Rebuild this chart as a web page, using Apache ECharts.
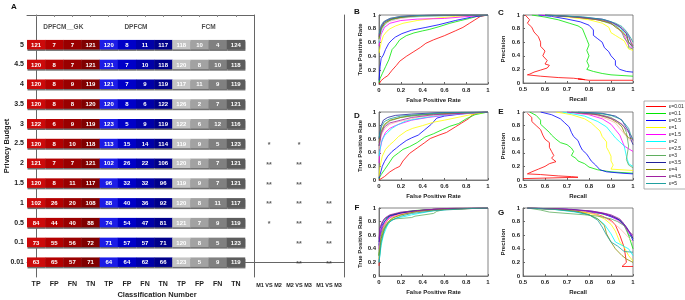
<!DOCTYPE html>
<html>
<head>
<meta charset="utf-8">
<script src="https://cdn.jsdelivr.net/npm/echarts@6/dist/echarts.min.js"></script>
<style>
  html, body { margin: 0; padding: 0; background: #fff; }
  #chart { width: 685px; height: 300px; }
</style>
</head>
<body>
<div id="chart"></div>
<script>
// ---- panel A : confusion counts, rows from budget 5 (top) down to 0.01
var budgets = ['5', '4.5', '4', '3.5', '3', '2.5', '2', '1.5', '1', '0.5', '0.1', '0.01'];
var classLabels = ['TP', 'FP', 'FN', 'TN', 'TP', 'FP', 'FN', 'TN', 'TP', 'FP', 'FN', 'TN'];
var methodNames = ['DPFCM__GK', 'DPFCM', 'FCM'];
var gkCounts = [
  [121, 7, 7, 121], [120, 8, 7, 121], [120, 8, 9, 119], [120, 8, 8, 120],
  [122, 6, 9, 119], [120, 8, 10, 118], [121, 7, 7, 121], [120, 8, 11, 117],
  [102, 26, 20, 108], [84, 44, 40, 88], [73, 55, 56, 72], [63, 65, 57, 71]
];
var dpCounts = [
  [120, 8, 11, 117], [121, 7, 10, 118], [121, 7, 9, 119], [120, 8, 6, 122],
  [123, 5, 9, 119], [113, 15, 14, 114], [102, 26, 22, 106], [96, 32, 32, 96],
  [88, 40, 36, 92], [74, 54, 47, 81], [71, 57, 57, 71], [64, 64, 62, 66]
];
var fcmCounts = [
  [118, 10, 4, 124], [120, 8, 10, 118], [117, 11, 9, 119], [126, 2, 7, 121],
  [122, 6, 12, 116], [119, 9, 5, 123], [120, 8, 7, 121], [119, 9, 7, 121],
  [120, 8, 11, 117], [121, 7, 9, 119], [120, 8, 5, 123], [123, 5, 9, 119]
];
var compareLabels = ['M1 VS M2', 'M2 VS M3', 'M1 VS M3'];
var starsM1M2 = ['', '', '', '', '', '*', '**', '**', '**', '*', '', ''];
var starsM2M3 = ['', '', '', '', '', '*', '**', '**', '**', '**', '**', '**'];
var starsM1M3 = ['', '', '', '', '', '', '', '', '**', '**', '**', '**'];

// ---- panels B-G : one curve per privacy budget
var epsNames = ['ε=0.01', 'ε=0.1', 'ε=0.5', 'ε=1', 'ε=1.5', 'ε=2', 'ε=2.5', 'ε=3', 'ε=3.5', 'ε=4', 'ε=4.5', 'ε=5'];

var rocGK = [
  [[0,0],[0.02,0.05],[0.05,0.09],[0.08,0.12],[0.12,0.2],[0.16,0.27],[0.19,0.33],[0.25,0.4],[0.32,0.47],[0.38,0.53],[0.43,0.59],[0.5,0.64],[0.6,0.7],[0.7,0.77],[0.77,0.82],[0.83,0.88],[0.88,0.93],[0.93,0.98],[1,1]],
  [[0,0.02],[0.01,0.08],[0.03,0.15],[0.06,0.25],[0.09,0.35],[0.12,0.5],[0.15,0.55],[0.19,0.64],[0.25,0.7],[0.32,0.74],[0.4,0.77],[0.46,0.79],[0.55,0.83],[0.65,0.88],[0.75,0.92],[0.83,0.95],[0.9,0.98],[1,1]],
  [[0,0.05],[0.01,0.25],[0.02,0.37],[0.04,0.42],[0.06,0.5],[0.09,0.59],[0.12,0.64],[0.15,0.68],[0.21,0.73],[0.3,0.78],[0.43,0.82],[0.55,0.86],[0.7,0.92],[0.85,0.97],[1,1]],
  [[0,0.45],[0.02,0.6],[0.04,0.7],[0.07,0.76],[0.1,0.8],[0.15,0.84],[0.22,0.88],[0.35,0.92],[0.5,0.95],[0.7,0.98],[1,1]],
  [[0,0.55],[0.02,0.72],[0.05,0.82],[0.1,0.88],[0.2,0.92],[0.35,0.94],[0.6,0.95],[0.75,0.97],[0.9,0.99],[1,1]],
  [[0,0.6],[0.01,0.7],[0.03,0.8],[0.06,0.87],[0.1,0.92],[0.2,0.96],[0.4,0.98],[0.6,0.99],[1,1]],
  [[0,0.62],[0.02,0.78],[0.05,0.86],[0.1,0.91],[0.2,0.95],[0.35,0.98],[0.6,0.99],[1,1]],
  [[0,0.65],[0.02,0.8],[0.05,0.88],[0.1,0.93],[0.18,0.96],[0.3,0.98],[0.5,0.99],[1,1]],
  [[0,0.68],[0.02,0.82],[0.05,0.9],[0.1,0.94],[0.2,0.97],[0.3,0.99],[0.55,1],[1,1]],
  [[0,0.66],[0.02,0.8],[0.06,0.89],[0.12,0.94],[0.22,0.97],[0.35,0.99],[0.6,1],[1,1]],
  [[0,0.7],[0.02,0.84],[0.05,0.91],[0.1,0.95],[0.2,0.98],[0.3,0.99],[0.5,1],[1,1]],
  [[0,0.72],[0.02,0.85],[0.04,0.9],[0.1,0.95],[0.2,0.98],[0.32,0.99],[0.5,1],[1,1]]
];
var prGK = [
  [[0.51,1],[0.53,0.93],[0.52,0.88],[0.54,0.82],[0.55,0.75],[0.57,0.68],[0.58,0.6],[0.58,0.54],[0.6,0.47],[0.59,0.4],[0.61,0.33],[0.6,0.28],[0.62,0.26],[0.61,0.22],[0.58,0.19],[0.55,0.16],[0.53,0.13],[0.52,0.12],[0.58,0.1],[0.66,0.08],[0.73,0.07],[0.78,0.05],[0.75,0.06],[0.8,0.04],[1,0.04]],
  [[0.54,1],[0.6,0.97],[0.66,0.93],[0.71,0.88],[0.75,0.84],[0.77,0.8],[0.78,0.72],[0.79,0.64],[0.8,0.56],[0.79,0.48],[0.8,0.4],[0.79,0.32],[0.8,0.25],[0.79,0.2],[0.82,0.17],[0.86,0.14],[0.9,0.12],[0.95,0.11],[1,0.1]],
  [[0.57,1],[0.63,0.98],[0.7,0.94],[0.76,0.9],[0.8,0.85],[0.82,0.78],[0.82,0.7],[0.84,0.65],[0.86,0.6],[0.87,0.52],[0.89,0.46],[0.9,0.4],[0.92,0.33],[0.92,0.26],[0.94,0.2],[0.97,0.17],[1,0.16]],
  [[0.6,1],[0.7,0.97],[0.8,0.93],[0.86,0.88],[0.89,0.82],[0.9,0.74],[0.92,0.7],[0.94,0.66],[0.96,0.62],[0.97,0.56],[0.98,0.5],[1,0.48]],
  [[0.58,1],[0.7,0.98],[0.82,0.94],[0.88,0.9],[0.92,0.84],[0.94,0.78],[0.96,0.7],[0.97,0.62],[0.98,0.55],[1,0.5]],
  [[0.6,1],[0.72,0.98],[0.84,0.94],[0.9,0.88],[0.94,0.82],[0.96,0.74],[0.98,0.68],[0.99,0.6],[1,0.52]],
  [[0.62,1],[0.75,0.97],[0.85,0.93],[0.9,0.88],[0.93,0.82],[0.95,0.76],[0.97,0.7],[0.99,0.64],[1,0.5]],
  [[0.6,1],[0.74,0.97],[0.84,0.93],[0.9,0.87],[0.93,0.82],[0.95,0.74],[0.96,0.66],[0.98,0.58],[0.98,0.52],[1,0.5]],
  [[0.6,1],[0.76,0.97],[0.86,0.94],[0.9,0.9],[0.93,0.85],[0.95,0.8],[0.97,0.73],[0.98,0.6],[1,0.52]],
  [[0.62,1],[0.74,0.97],[0.84,0.93],[0.9,0.88],[0.92,0.82],[0.95,0.76],[0.97,0.68],[0.98,0.6],[1,0.54]],
  [[0.6,1],[0.75,0.97],[0.86,0.93],[0.91,0.88],[0.94,0.83],[0.96,0.77],[0.98,0.7],[0.99,0.6],[1,0.55]],
  [[0.6,1],[0.78,0.97],[0.87,0.93],[0.92,0.88],[0.95,0.83],[0.97,0.76],[0.99,0.66],[1,0.6]]
];
var rocDP = [
  [[0,0],[0.01,0.02],[0.05,0.05],[0.1,0.12],[0.15,0.17],[0.19,0.2],[0.22,0.28],[0.28,0.39],[0.35,0.47],[0.42,0.55],[0.47,0.61],[0.55,0.66],[0.62,0.7],[0.7,0.78],[0.76,0.84],[0.82,0.9],[0.86,0.96],[0.92,0.99],[1,1]],
  [[0,0.02],[0.02,0.08],[0.05,0.15],[0.08,0.22],[0.13,0.34],[0.18,0.4],[0.22,0.45],[0.28,0.49],[0.35,0.55],[0.42,0.63],[0.5,0.68],[0.58,0.74],[0.65,0.79],[0.73,0.83],[0.8,0.9],[0.88,0.96],[1,1]],
  [[0,0.03],[0.01,0.08],[0.03,0.2],[0.05,0.27],[0.08,0.35],[0.12,0.42],[0.16,0.47],[0.19,0.51],[0.25,0.58],[0.3,0.62],[0.36,0.66],[0.42,0.74],[0.48,0.82],[0.53,0.91],[0.6,0.94],[0.75,0.97],[1,1]],
  [[0,0.05],[0.01,0.2],[0.03,0.35],[0.06,0.45],[0.1,0.52],[0.13,0.56],[0.18,0.64],[0.25,0.72],[0.31,0.76],[0.4,0.8],[0.5,0.85],[0.6,0.88],[0.75,0.93],[0.9,0.98],[1,1]],
  [[0,0.25],[0.01,0.45],[0.03,0.6],[0.06,0.7],[0.1,0.76],[0.15,0.8],[0.22,0.84],[0.3,0.88],[0.45,0.92],[0.6,0.95],[0.8,0.98],[1,1]],
  [[0,0.35],[0.02,0.55],[0.05,0.65],[0.08,0.7],[0.12,0.76],[0.18,0.82],[0.25,0.87],[0.35,0.9],[0.5,0.94],[0.7,0.97],[1,1]],
  [[0,0.45],[0.02,0.65],[0.05,0.75],[0.1,0.82],[0.18,0.86],[0.25,0.88],[0.35,0.92],[0.5,0.95],[0.75,0.98],[1,1]],
  [[0,0.5],[0.02,0.7],[0.05,0.8],[0.1,0.87],[0.2,0.92],[0.35,0.95],[0.5,0.97],[1,1]],
  [[0,0.6],[0.02,0.8],[0.04,0.88],[0.08,0.92],[0.15,0.95],[0.3,0.97],[0.55,0.99],[1,1]],
  [[0,0.55],[0.02,0.72],[0.05,0.82],[0.1,0.88],[0.2,0.92],[0.3,0.95],[0.5,0.97],[1,1]],
  [[0,0.5],[0.02,0.68],[0.05,0.78],[0.1,0.84],[0.2,0.88],[0.3,0.92],[0.5,0.96],[1,1]],
  [[0,0.62],[0.02,0.78],[0.05,0.86],[0.1,0.9],[0.2,0.94],[0.35,0.96],[0.6,0.99],[1,1]]
];
var prDP = [
  [[0.52,0.98],[0.54,0.92],[0.54,0.86],[0.56,0.8],[0.58,0.74],[0.59,0.66],[0.6,0.6],[0.62,0.55],[0.62,0.48],[0.63,0.42],[0.64,0.36],[0.63,0.32],[0.65,0.27],[0.62,0.24],[0.6,0.2],[0.57,0.16],[0.54,0.12],[0.52,0.09],[0.58,0.08],[0.66,0.06],[0.72,0.05],[0.75,0.04],[0.75,0.02],[0.5,0.02]],
  [[0.53,1],[0.56,0.95],[0.58,0.88],[0.58,0.82],[0.6,0.76],[0.62,0.7],[0.63,0.66],[0.65,0.6],[0.67,0.55],[0.7,0.52],[0.72,0.47],[0.73,0.42],[0.72,0.36],[0.74,0.32],[0.75,0.28],[0.78,0.24],[0.8,0.19],[0.84,0.15],[0.9,0.12],[0.95,0.11],[1,0.1]],
  [[0.58,1],[0.63,0.96],[0.67,0.9],[0.69,0.84],[0.71,0.78],[0.72,0.7],[0.73,0.64],[0.75,0.58],[0.76,0.5],[0.77,0.44],[0.79,0.38],[0.8,0.33],[0.81,0.28],[0.83,0.22],[0.85,0.15],[0.88,0.12],[0.95,0.1],[1,0.09]],
  [[0.65,1],[0.72,0.96],[0.78,0.9],[0.81,0.84],[0.83,0.78],[0.85,0.72],[0.86,0.64],[0.88,0.56],[0.88,0.48],[0.89,0.42],[0.9,0.35],[0.9,0.28],[0.91,0.22],[0.9,0.16],[0.95,0.15],[1,0.14]],
  [[0.7,1],[0.8,0.96],[0.86,0.9],[0.9,0.82],[0.92,0.74],[0.94,0.66],[0.95,0.58],[0.96,0.5],[0.98,0.46],[1,0.42]],
  [[0.68,1],[0.78,0.94],[0.84,0.86],[0.88,0.78],[0.9,0.7],[0.92,0.62],[0.94,0.56],[0.96,0.5],[0.97,0.35],[0.98,0.24],[1,0.2]],
  [[0.72,1],[0.82,0.96],[0.88,0.9],[0.92,0.84],[0.94,0.76],[0.96,0.68],[0.98,0.6],[1,0.55]],
  [[0.74,1],[0.84,0.97],[0.9,0.92],[0.93,0.86],[0.96,0.78],[0.97,0.7],[0.98,0.5],[0.97,0.3],[0.98,0.22],[1,0.18]],
  [[0.75,1],[0.86,0.98],[0.92,0.94],[0.95,0.88],[0.96,0.82],[0.98,0.72],[0.99,0.6],[1,0.52]],
  [[0.72,1],[0.84,0.96],[0.9,0.9],[0.93,0.84],[0.95,0.78],[0.96,0.7],[0.98,0.62],[1,0.6]],
  [[0.7,1],[0.82,0.97],[0.88,0.93],[0.92,0.88],[0.95,0.82],[0.97,0.74],[0.99,0.66],[1,0.58]],
  [[0.72,1],[0.85,0.98],[0.9,0.95],[0.94,0.9],[0.96,0.84],[0.98,0.76],[0.99,0.66],[1,0.6]]
];
var rocFCM = [
  [[0,0.15],[0.01,0.45],[0.02,0.6],[0.04,0.72],[0.07,0.8],[0.1,0.86],[0.15,0.9],[0.25,0.93],[0.35,0.96],[0.5,0.98],[0.7,0.99],[1,1]],
  [[0,0.3],[0.01,0.55],[0.03,0.7],[0.05,0.8],[0.08,0.87],[0.12,0.9],[0.2,0.93],[0.3,0.96],[0.5,0.98],[1,1]],
  [[0,0.45],[0.01,0.6],[0.03,0.75],[0.06,0.82],[0.1,0.88],[0.18,0.92],[0.3,0.95],[0.5,0.98],[1,1]],
  [[0,0.25],[0.02,0.5],[0.04,0.65],[0.07,0.75],[0.1,0.82],[0.15,0.87],[0.25,0.92],[0.4,0.96],[0.6,0.99],[1,1]],
  [[0,0.4],[0.01,0.6],[0.03,0.72],[0.06,0.8],[0.1,0.86],[0.2,0.91],[0.3,0.94],[0.5,0.98],[1,1]],
  [[0,0.2],[0.02,0.45],[0.04,0.6],[0.07,0.72],[0.1,0.8],[0.15,0.85],[0.25,0.88],[0.3,0.9],[0.5,0.96],[0.7,0.99],[1,1]],
  [[0,0.35],[0.02,0.6],[0.05,0.75],[0.08,0.82],[0.12,0.87],[0.2,0.91],[0.35,0.95],[0.6,0.98],[1,1]],
  [[0,0.3],[0.01,0.5],[0.03,0.65],[0.06,0.75],[0.1,0.82],[0.15,0.84],[0.3,0.86],[0.33,0.88],[0.5,0.92],[0.53,0.95],[0.6,0.98],[1,1]],
  [[0,0.5],[0.01,0.7],[0.03,0.78],[0.05,0.84],[0.1,0.89],[0.2,0.93],[0.35,0.96],[0.6,0.99],[1,1]],
  [[0,0.3],[0.02,0.55],[0.05,0.7],[0.08,0.78],[0.12,0.85],[0.2,0.9],[0.35,0.95],[0.6,0.98],[1,1]],
  [[0,0.55],[0.01,0.72],[0.03,0.8],[0.06,0.86],[0.1,0.9],[0.2,0.94],[0.4,0.97],[0.7,1],[1,1]],
  [[0,0.2],[0.02,0.5],[0.05,0.68],[0.08,0.77],[0.12,0.82],[0.2,0.88],[0.3,0.92],[0.5,0.96],[0.8,0.99],[1,1]]
];
var prFCM = [
  [[0.52,1],[0.65,0.98],[0.75,0.95],[0.82,0.92],[0.86,0.88],[0.9,0.82],[0.92,0.75],[0.94,0.6],[0.96,0.42],[0.97,0.2],[0.95,0.14],[1,0.14]],
  [[0.52,1],[0.68,0.98],[0.78,0.95],[0.85,0.92],[0.9,0.88],[0.93,0.84],[0.95,0.78],[0.97,0.7],[0.99,0.5],[1,0.4]],
  [[0.52,1],[0.7,0.98],[0.8,0.95],[0.86,0.92],[0.9,0.87],[0.94,0.82],[0.96,0.75],[0.98,0.66],[1,0.52]],
  [[0.52,1],[0.66,0.98],[0.76,0.95],[0.83,0.9],[0.87,0.84],[0.9,0.76],[0.92,0.66],[0.94,0.5],[0.96,0.42],[0.98,0.3],[1,0.22]],
  [[0.52,1],[0.7,0.98],[0.8,0.95],[0.86,0.92],[0.9,0.88],[0.93,0.82],[0.96,0.74],[0.98,0.64],[1,0.58]],
  [[0.52,1],[0.64,0.98],[0.74,0.94],[0.8,0.9],[0.84,0.84],[0.87,0.76],[0.9,0.62],[0.92,0.5],[0.95,0.45],[0.98,0.4],[1,0.3]],
  [[0.52,1],[0.68,0.98],[0.78,0.95],[0.84,0.9],[0.88,0.84],[0.91,0.78],[0.94,0.7],[0.97,0.6],[1,0.5]],
  [[0.52,1],[0.58,0.97],[0.62,0.94],[0.7,0.92],[0.78,0.9],[0.84,0.88],[0.87,0.86],[0.9,0.84],[0.93,0.8],[0.96,0.74],[0.98,0.6],[1,0.56]],
  [[0.52,1],[0.72,0.98],[0.82,0.95],[0.88,0.91],[0.92,0.86],[0.95,0.8],[0.97,0.72],[0.99,0.62],[1,0.55]],
  [[0.52,1],[0.66,0.98],[0.75,0.95],[0.8,0.9],[0.84,0.84],[0.87,0.74],[0.88,0.62],[0.9,0.5],[0.92,0.4],[0.95,0.3],[0.97,0.25],[1,0.2]],
  [[0.52,1],[0.7,0.98],[0.8,0.96],[0.86,0.93],[0.9,0.9],[0.94,0.84],[0.96,0.76],[0.98,0.66],[1,0.6]],
  [[0.52,1],[0.64,0.98],[0.73,0.95],[0.8,0.9],[0.84,0.82],[0.86,0.72],[0.88,0.6],[0.9,0.5],[0.93,0.44],[0.96,0.36],[1,0.35]]
];

var FONT = '"Liberation Sans", Arial, sans-serif';
var epsColors = ['#ff0000', '#00e600', '#0000ff', '#ffff00', '#ff00ff', '#00ffff',
                 '#ffb3b3', '#5fae5f', '#20209a', '#8c8c00', '#a020a0', '#20a0a0'];
var cellFill = ['#cc0a0a', '#b30000', '#990000', '#800000',
                '#1c1ce6', '#0000c8', '#0000a8', '#00008a',
                '#c4c4c4', '#a2a2a2', '#808080', '#5c5c5c'];
var rowIdx = [0, 1, 2, 3, 4, 5, 6, 7, 8, 9, 10, 11];

// cells: x = column 0..11, y = 11 for budget 5 .. 0 for budget 0.01
var cellData = [];
[gkCounts, dpCounts, fcmCounts].forEach(function (tab, m) {
  tab.forEach(function (row, i) {
    row.forEach(function (v, j) {
      cellData.push([m * 4 + j, 11 - i, v]);
    });
  });
});
var starData = [];
[starsM1M2, starsM2M3, starsM1M3].forEach(function (col, c) {
  col.forEach(function (s, i) {
    if (s) starData.push([c, 11 - i, s]);
  });
});

function renderCell(params, api) {
  var col = api.value(0);
  var p = api.coord([col, api.value(1)]);
  var s = api.size([1, 0.48]);
  var x = p[0] - s[0] / 2, y = p[1] - s[1] / 2;
  return {
    type: 'group',
    children: [
      { type: 'rect', shape: { x: x + 0.5, y: y + 1.5, width: s[0], height: s[1] }, style: { fill: '#707070' } },
      { type: 'rect', shape: { x: x, y: y, width: s[0] + 0.3, height: s[1] }, style: { fill: cellFill[col] } },
      { type: 'text', style: { x: p[0], y: p[1] + 0.5, text: String(api.value(2)), align: 'center', verticalAlign: 'middle',
        fill: '#fff', font: 'bold 6px ' + FONT } }
    ]
  };
}

var lineColor = '#666';
var tickLabel = { fontSize: 6, fontWeight: 'bold', color: '#222', margin: 3 };

var grids = [
  { left: 27, top: 15, width: 227, height: 262 },
  { left: 254, top: 15, width: 90, height: 262 }
];
var plotBoxes = [
  [379, 15, 109, 69], [523, 15, 110, 68],
  [379, 112, 109, 68], [523, 112, 110, 68],
  [379, 208, 109, 68], [523, 208, 110, 68]
];
plotBoxes.forEach(function (b) {
  grids.push({ left: b[0], top: b[1], width: b[2], height: b[3], show: true, borderColor: lineColor, borderWidth: 0.8 });
});

var xAxes = [
  { type: 'value', gridIndex: 0, min: -0.5, max: 12, position: 'bottom',
    axisLine: { lineStyle: { color: lineColor } }, splitLine: { show: false },
    axisTick: { customValues: rowIdx, inside: true, length: 2, lineStyle: { color: '#888' } },
    axisLabel: { customValues: rowIdx, formatter: function (v) { return classLabels[v]; },
      fontSize: 7, fontWeight: 'bold', color: '#222', margin: 4 } },
  { type: 'value', gridIndex: 0, min: -0.5, max: 12, position: 'top',
    axisLine: { lineStyle: { color: lineColor } }, splitLine: { show: false },
    axisTick: { customValues: rowIdx, inside: true, length: 2, lineStyle: { color: '#888' } },
    axisLabel: { show: false } },
  { type: 'category', gridIndex: 1, data: compareLabels,
    axisLine: { lineStyle: { color: lineColor } }, axisTick: { show: false },
    axisLabel: { interval: 0, hideOverlap: false, fontSize: 5.5, fontWeight: 'bold', color: '#222', margin: 5 } }
];
var yAxes = [
  { type: 'value', gridIndex: 0, min: -0.75, max: 12.5,
    axisLine: { show: true, lineStyle: { color: lineColor } }, axisTick: { show: false }, splitLine: { show: false },
    axisLabel: { customValues: rowIdx, formatter: function (v) { return budgets[11 - v]; },
      fontSize: 7, fontWeight: 'bold', color: '#222', margin: 3 } },
  { type: 'value', gridIndex: 1, min: -0.75, max: 12.5, position: 'left',
    axisLine: { show: true, lineStyle: { color: lineColor } }, axisTick: { show: false },
    splitLine: { show: false }, axisLabel: { show: false } },
  { type: 'value', gridIndex: 1, min: -0.75, max: 12.5, position: 'right',
    axisLine: { show: true, lineStyle: { color: lineColor } }, splitLine: { show: false },
    axisTick: { customValues: rowIdx, inside: true, length: 2, lineStyle: { color: '#888' } },
    axisLabel: { show: false } }
];

var panelCurves = [rocGK, prGK, rocDP, prDP, rocFCM, prFCM];
var series = [
  { type: 'custom', xAxisIndex: 0, yAxisIndex: 0, renderItem: renderCell, data: cellData, silent: true },
  { type: 'scatter', xAxisIndex: 0, yAxisIndex: 0, symbolSize: 0, silent: true,
    data: methodNames.map(function (n, m) { return [m * 4 + 1.5, 11.9, n]; }),
    label: { show: true, position: 'inside', formatter: function (p) { return p.value[2]; },
      fontSize: 6.5, fontWeight: 'bold', color: '#222' } },
  { type: 'scatter', xAxisIndex: 2, yAxisIndex: 1, symbolSize: 0, silent: true, data: starData,
    label: { show: true, position: 'inside', offset: [0, 1.5], formatter: function (p) { return p.value[2]; },
      fontSize: 7, fontWeight: 'bold', color: '#333' } }
];

panelCurves.forEach(function (curves, k) {
  var isROC = k % 2 === 0;
  xAxes.push({
    type: 'value', gridIndex: k + 2, min: isROC ? 0 : 0.5, max: 1, interval: isROC ? 0.2 : 0.1,
    name: isROC ? 'False Positive Rate' : 'Recall', nameLocation: 'middle', nameGap: 13,
    nameTextStyle: { fontSize: 6, fontWeight: 'bold', color: '#222' },
    axisLine: { lineStyle: { color: lineColor, width: 0.8 } },
    axisTick: { inside: true, length: 2, lineStyle: { color: lineColor } },
    splitLine: { show: false }, axisLabel: tickLabel
  });
  yAxes.push({
    type: 'value', gridIndex: k + 2, min: 0, max: 1, interval: 0.2,
    name: isROC ? 'True Positive Rate' : 'Precision', nameLocation: 'middle', nameGap: isROC ? 15 : 17,
    nameTextStyle: { fontSize: 6, fontWeight: 'bold', color: '#222' },
    axisLine: { show: true, lineStyle: { color: lineColor, width: 0.8 } },
    axisTick: { show: true, inside: true, length: 2, lineStyle: { color: lineColor } },
    splitLine: { show: false }, axisLabel: tickLabel
  });
  curves.forEach(function (pts, e) {
    series.push({
      type: 'line', name: epsNames[e], xAxisIndex: k + 3, yAxisIndex: k + 3,
      data: pts, showSymbol: false, symbol: 'none', silent: true,
      lineStyle: { width: 0.8, color: epsColors[e] }, itemStyle: { color: epsColors[e] }
    });
  });
});

function letter(t, x, y) {
  return { type: 'text', x: x, y: y, style: { text: t, font: 'bold 8px ' + FONT, fill: '#111', align: 'center', verticalAlign: 'middle' } };
}

var chart = echarts.init(document.getElementById('chart'), null, { renderer: 'canvas' });
chart.setOption({
  animation: false,
  backgroundColor: '#fff',
  textStyle: { fontFamily: FONT },
  grid: grids,
  xAxis: xAxes,
  yAxis: yAxes,
  legend: {
    orient: 'vertical', left: 644, top: 101, data: epsNames, selectedMode: false,
    icon: 'rect', itemWidth: 20, itemHeight: 1, itemGap: 2, padding: [3, 2, 3, 2],
    borderColor: '#999', borderWidth: 0.8,
    textStyle: { fontSize: 5, lineHeight: 5, color: '#222', padding: [0, 0, 0, -2] }
  },
  graphic: [
    letter('A', 14, 7), letter('B', 357, 12), letter('C', 501, 13),
    letter('D', 357, 116), letter('E', 501, 112), letter('F', 357, 208), letter('G', 501, 213),
    { type: 'text', x: 7, y: 146, rotation: Math.PI / 2,
      style: { text: 'Privacy Budget', font: 'bold 7.5px ' + FONT, fill: '#222', align: 'center', verticalAlign: 'middle' } },
    { type: 'text', x: 157, y: 295,
      style: { text: 'Classification Number', font: 'bold 7.5px ' + FONT, fill: '#222', align: 'center', verticalAlign: 'middle' } }
  ],
  series: series
});
</script>
</body>
</html>
